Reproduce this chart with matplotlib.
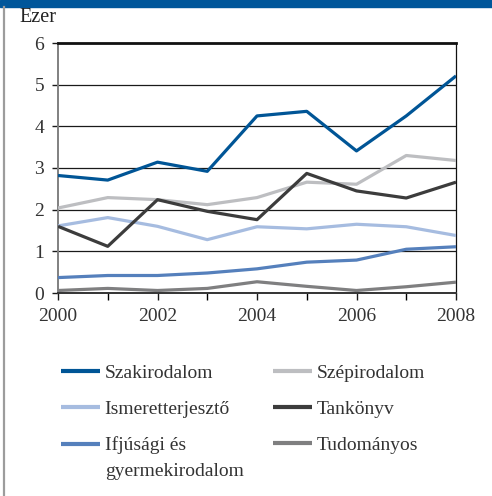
import matplotlib
matplotlib.use("Agg")
import matplotlib.pyplot as plt
from matplotlib.patches import Rectangle
from matplotlib.lines import Line2D
from matplotlib.ticker import MultipleLocator

plt.rcParams['font.family'] = ['Liberation Serif', 'DejaVu Serif']

years = [2000, 2001, 2002, 2003, 2004, 2005, 2006, 2007, 2008]
szakirodalom = [2.82, 2.71, 3.14, 2.92, 4.25, 4.36, 3.41, 4.25, 5.21]
szepirodalom = [2.04, 2.29, 2.24, 2.12, 2.29, 2.66, 2.61, 3.30, 3.18]
ismeretterjeszto = [1.61, 1.81, 1.60, 1.28, 1.59, 1.54, 1.65, 1.59, 1.38]
tankonyv = [1.60, 1.12, 2.24, 1.96, 1.76, 2.87, 2.45, 2.28, 2.66]
ifjusagi = [0.37, 0.42, 0.42, 0.48, 0.58, 0.74, 0.79, 1.05, 1.11]
tudomanyos = [0.06, 0.11, 0.06, 0.11, 0.27, 0.16, 0.06, 0.15, 0.26]
y_label = "Ezer"
x_ticks = [2000, 2002, 2004, 2006, 2008]
y_ticks = [0, 1, 2, 3, 4, 5, 6]

W, H = 492, 496
fig = plt.figure(figsize=(W / 100, H / 100), dpi=100)
fig.patch.set_facecolor('white')

# top bar and left rule
fig.patches.append(Rectangle((0, 1 - 7 / H), 1, 7 / H, transform=fig.transFigure,
                             color='#00569A', zorder=0))
fig.add_artist(Line2D([3.5 / W, 3.5 / W], [0, 1 - 7 / H], transform=fig.transFigure,
                      color='#9c9c9c', lw=1.6))

ax = fig.add_axes([58 / W, 1 - 293 / H, (456 - 58) / W, (293 - 43) / H])

series = [
    ("Szakirodalom", szakirodalom, '#005596'),
    ("Ismeretterjesztő", ismeretterjeszto, '#A6BCE0'),
    ("Ifjúsági és", ifjusagi, '#5580BC'),
    ("Szépirodalom", szepirodalom, '#BDBEC1'),
    ("Tankönyv", tankonyv, '#3C3C3C'),
    ("Tudományos", tudomanyos, '#7F7F80'),
]
lines = {}
for name, vals, col in series:
    ln, = ax.plot(years, vals, color=col, lw=2.3, solid_capstyle='butt', zorder=3)
    lines[name] = ln

ax.set_xlim(2000, 2008)
ax.set_ylim(0, 6)
ax.set_xticks(x_ticks)
ax.xaxis.set_minor_locator(MultipleLocator(1))
ax.set_yticks(y_ticks)
for yv in y_ticks[1:-1]:
    ax.axhline(yv, color='#1a1a1a', lw=0.9, zorder=1)

ax.tick_params(axis='both', labelsize=14, colors='#1a1a1a', labelcolor='#333333')
ax.tick_params(axis='x', which='both', direction='out', length=5, width=1, pad=6)
ax.tick_params(axis='x', which='minor', length=5)
ax.tick_params(axis='y', direction='out', length=4, width=1, pad=6)

ax.spines['left'].set_color('#808080')
ax.spines['left'].set_linewidth(1.4)
ax.spines['bottom'].set_color('#333333')
ax.spines['bottom'].set_linewidth(1.4)
ax.spines['top'].set_color('#111111')
ax.spines['top'].set_linewidth(2)
ax.spines['right'].set_color('#111111')
ax.spines['right'].set_linewidth(0.9)

fig.text(19 / W, 1 - 17 / H, y_label, fontsize=14.5, color='#222222', va='center', ha='left')

handles = [lines[s[0]] for s in series]
labels = [s[0] for s in series]
leg = fig.legend(handles, labels, ncol=2, loc='upper left',
                 bbox_to_anchor=(61 / W, 1 - 364 / H), frameon=False,
                 fontsize=14, handlelength=2.0, handletextpad=0.25,
                 columnspacing=2.2, labelspacing=0.96, borderpad=0, borderaxespad=0)
for t in leg.get_texts():
    t.set_color('#333333')
for lh in leg.legend_handles:
    lh.set_linewidth(3)

# second line of the wrapped label
fig.canvas.draw()
bb = leg.get_texts()[2].get_window_extent()
fig.text(bb.x0 / W, (bb.y0 - 9) / H, "gyermekirodalom", fontsize=14,
         color='#333333', ha='left', va='top')

fig.savefig('out.png', dpi=100)
